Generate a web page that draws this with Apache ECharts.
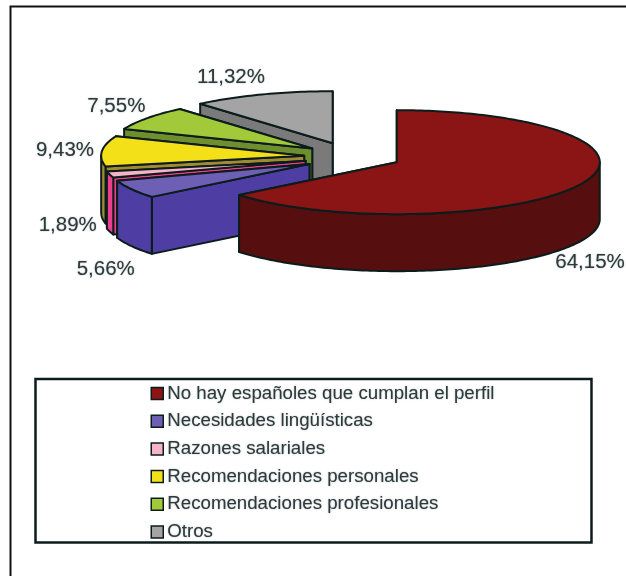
<!DOCTYPE html>
<html>
<head>
<meta charset="utf-8">
<style>
    html, body { margin: 0; padding: 0; background: #fff; }
    #chart { width: 626px; height: 576px; }
</style>
<script src="https://cdn.jsdelivr.net/npm/echarts@6/dist/echarts.min.js"></script>
</head>
<body>
<div id="chart"></div>
<script>
// los datos
const categories = [
    'No hay españoles que cumplan el perfil',
    'Necesidades lingüísticas',
    'Razones salariales',
    'Recomendaciones personales',
    'Recomendaciones profesionales',
    'Otros'
];
const percents = [64.15, 5.66, 1.89, 9.43, 7.55, 11.32];
const percentLabels = ['64,15%', '5,66%', '1,89%', '9,43%', '7,55%', '11,32%'];

// estilos
const topColors = ['#8a1514', '#6c5fb4', '#f6b4c6', '#f4e018', '#a2c93a', '#a4a4a4'];
const sideColors = ['#570e0e', '#4e3ea3', '#ec3e8c', '#a08a32', '#6f8e2d', '#7a7a7a'];
const explodeX = [54, 44, 44, 44, 44, 44];
const explodeY = [12, 14.7, 14.7, 14.7, 14.7, 14.7];
const labelOffsets = [[10, 78], [-26, 80], [-42, 51], [-37, -1], [-31, -12], [-31, -17]];

const lineColor = '#0c1c1c';
const textColor = '#2f3a3c';
const baseX = 348, baseY = 157;   // centro sin explotar
const rx = 203, ry = 52, depth = 57;

const total = percents.reduce((a, b) => a + b, 0);

function toRad(p) {
    return p / total * Math.PI * 2;
}

function sliceAngles(idx) {
    let start = 0;
    for (let i = 0; i < idx; i++) start += toRad(percents[i]);
    return [start, start + toRad(percents[idx])];
}

// los angulos van en sentido horario desde las 12
function rimPoint(c, a, dy) {
    return [c[0] + Math.sin(a) * rx, c[1] - Math.cos(a) * ry + (dy || 0)];
}

function arcPoints(c, a0, a1, dy) {
    const pts = [];
    const n = Math.max(2, Math.ceil((a1 - a0) / 0.02));
    for (let i = 0; i <= n; i++) {
        pts.push(rimPoint(c, a0 + (a1 - a0) * i / n, dy));
    }
    return pts;
}

function polygon(points, fill) {
    return {
        type: 'polygon',
        shape: { points: points },
        style: { fill: fill, stroke: lineColor, lineWidth: 2, lineJoin: 'round' }
    };
}

function radialFace(c, a, fill) {
    const p = rimPoint(c, a);
    return polygon([c, p, [p[0], p[1] + depth], [c[0], c[1] + depth]], fill);
}

function renderSlice(idx) {
    const [a0, a1] = sliceAngles(idx);
    const mid = (a0 + a1) / 2;
    const c = [
        baseX + Math.sin(mid) * explodeX[idx],
        baseY - Math.cos(mid) * explodeY[idx]
    ];
    const children = [];
    children.push(radialFace(c, a1, sideColors[idx]));
    children.push(radialFace(c, a0, sideColors[idx]));

    // el borde exterior solo se ve en la mitad delantera
    const from = Math.max(a0, Math.PI / 2);
    const to = Math.min(a1, Math.PI * 1.5);
    if (to > from) {
        const up = arcPoints(c, from, to);
        const down = arcPoints(c, from, to, depth).reverse();
        children.push(polygon(up.concat(down), sideColors[idx]));
    }
    children.push(polygon([c].concat(arcPoints(c, a0, a1)), topColors[idx]));

    const rim = rimPoint(c, mid);
    children.push({
        type: 'text',
        silent: true,
        z2: 100,
        style: {
            x: rim[0] + labelOffsets[idx][0],
            y: rim[1] + labelOffsets[idx][1],
            text: percentLabels[idx],
            fill: textColor,
            font: '20.5px "Liberation Sans", Arial, sans-serif',
            align: 'center',
            verticalAlign: 'middle',
            textShadowColor: 'rgba(60,80,80,0.55)',
            textShadowBlur: 1.5
        }
    });
    return { type: 'group', children: children };
}

// se pinta de atras hacia delante, el ultimo es el rojo
const drawOrder = [5, 4, 3, 2, 1, 0];
const seriesList = drawOrder.map(function (idx) {
    return {
        type: 'custom',
        name: categories[idx],
        coordinateSystem: 'none',
        silent: true,
        animation: false,
        itemStyle: { color: topColors[idx] },
        data: [[percents[idx]]],
        renderItem: function () {
            return renderSlice(idx);
        }
    };
});

const myChart = echarts.init(document.getElementById('chart'));
const option = {
    backgroundColor: '#fff',
    animation: false,
    legend: {
        left: 35.5,
        top: 379,
        orient: 'vertical',
        data: categories,
        selectedMode: false,
        icon: 'rect',
        itemWidth: 12,
        itemHeight: 12,
        itemGap: 8.7,
        padding: [5, 97, 1, 115],
        borderColor: lineColor,
        borderWidth: 2.5,
        itemStyle: { borderColor: lineColor, borderWidth: 1.5 },
        textStyle: {
            fontFamily: '"Liberation Sans", Arial, sans-serif',
            fontSize: 18.7,
            color: textColor,
            padding: [0, 0, 0, -1],
            lineHeight: 18,
            textShadowColor: 'rgba(60,80,80,0.5)',
            textShadowBlur: 1.5
        }
    },
    graphic: [{
        // marco del grafico, abierto por abajo y a la derecha
        type: 'polyline',
        silent: true,
        shape: { points: [[10.5, 576], [10.5, 6.5], [626, 6.5]] },
        style: { fill: null, stroke: '#111', lineWidth: 2 }
    }],
    series: seriesList
};
myChart.setOption(option);
</script>
</body>
</html>
